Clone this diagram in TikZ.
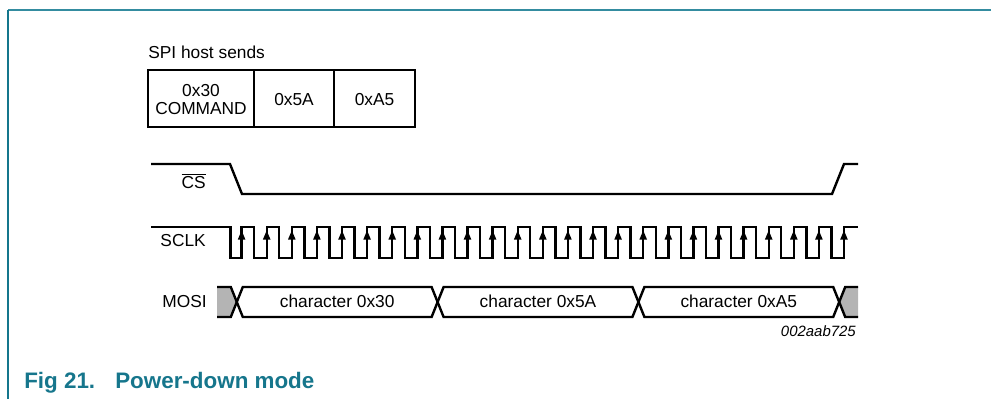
\documentclass[tikz,border=0pt]{standalone}
\usepackage{fontspec}
\setmainfont{Liberation Sans}
\definecolor{frametop}{RGB}{52,140,160}
\definecolor{frameleft}{RGB}{20,118,140}
\definecolor{captc}{RGB}{22,118,140}
\definecolor{busgray}{RGB}{180,180,180}
\tikzset{
  sig/.style={line width=1.8pt, line join=miter},
  lbl/.style={inner sep=0pt, font=\fontsize{13}{15}\selectfont},
  boxline/.style={line width=1.8pt},
}
\begin{document}
\begin{tikzpicture}[x=0.75pt,y=-0.75pt]
\useasboundingbox (0,0) rectangle (991,399);
% frame
\draw[frametop, line width=1.5pt] (8,10) -- (995,10);
\draw[frameleft, line width=1.5pt] (8.3,10) -- (8.3,405);
% caption
\node[anchor=base west, inner sep=0pt, text=captc, font=\bfseries\fontsize{16.8}{19}\selectfont] (capfig) at (24,388) {Fig 21.};
\node[anchor=base west, inner sep=0pt, text=captc, font=\bfseries\fontsize{16.8}{19}\selectfont] (captxt) at (115,388) {Power-down mode};
% SPI host sends
\node[lbl, anchor=base west] (title) at (148,59) {SPI host sends};
\draw[boxline] (148,70) rectangle (415,127);
\draw[boxline] (254,70) -- (254,127);
\draw[boxline] (334,70) -- (334,127);
\node[lbl, anchor=base, align=center] (b1a) at (201,96.7) {0x30};
\node[lbl, anchor=base, align=center] (b1b) at (201,115) {COMMAND};
\node[lbl, anchor=base] (b2) at (294,106) {0x5A};
\node[lbl, anchor=base] (b3) at (374.5,106) {0xA5};
% labels
\node[lbl, anchor=base east] (cs) at (206,188.3) {$\overline{\mbox{CS}}$};
\node[lbl, anchor=base east] (sclk) at (206,246.7) {SCLK};
\node[lbl, anchor=base east] (mosi) at (207,307.3) {MOSI};
% CS
\draw[sig] (151,164) -- (230,164) -- (242,194) -- (832,194) -- (844,164) -- (858,164);
% SCLK
\draw[sig] (151,227) -- (230.5,227) -- (230.5,258)
  \foreach \k in {0,...,23} { -- ({241.6+25.1*\k},258) -- ({241.6+25.1*\k},227) -- ({254.1+25.1*\k},227) -- ({254.1+25.1*\k},258) }
  -- (844,258) -- (844,227) -- (858,227);
\foreach \k in {0,...,24} {
  \fill ({241.6+25.1*\k},230.5) -- ++(-3.8,9) -- ++(7.6,0) -- cycle;
}
% MOSI bus
\fill[busgray] (217,287) -- (230.8,287) -- (236.8,302) -- (230.8,317) -- (217,317) -- cycle;
\draw[sig] (217,287) -- (230.8,287) -- (236.8,302) -- (230.8,317) -- (217,317);
\fill[busgray] (858,287) -- (845.2,287) -- (839.2,302) -- (845.2,317) -- (858,317) -- cycle;
\draw[sig] (858,287) -- (845.2,287) -- (839.2,302) -- (845.2,317) -- (858,317);
\foreach \j in {0,1,2} {
  \pgfmathsetmacro{\ca}{236.8+200.8*\j}
  \pgfmathsetmacro{\cb}{236.8+200.8*(\j+1)}
  \draw[sig] (\ca,302) -- (\ca+6,287) -- (\cb-6,287) -- (\cb,302) -- (\cb-6,317) -- (\ca+6,317) -- cycle;
}
\node[lbl, anchor=base] (d1) at (337.2,307.8) {character 0x30};
\node[lbl, anchor=base] (d2) at (538,307.8) {character 0x5A};
\node[lbl, anchor=base] (d3) at (738.8,307.8) {character 0xA5};
\node[anchor=base east, inner sep=0pt, font=\itshape\fontsize{11.2}{13}\selectfont] (fid) at (856,336) {002aab725};
\end{tikzpicture}
\end{document}
